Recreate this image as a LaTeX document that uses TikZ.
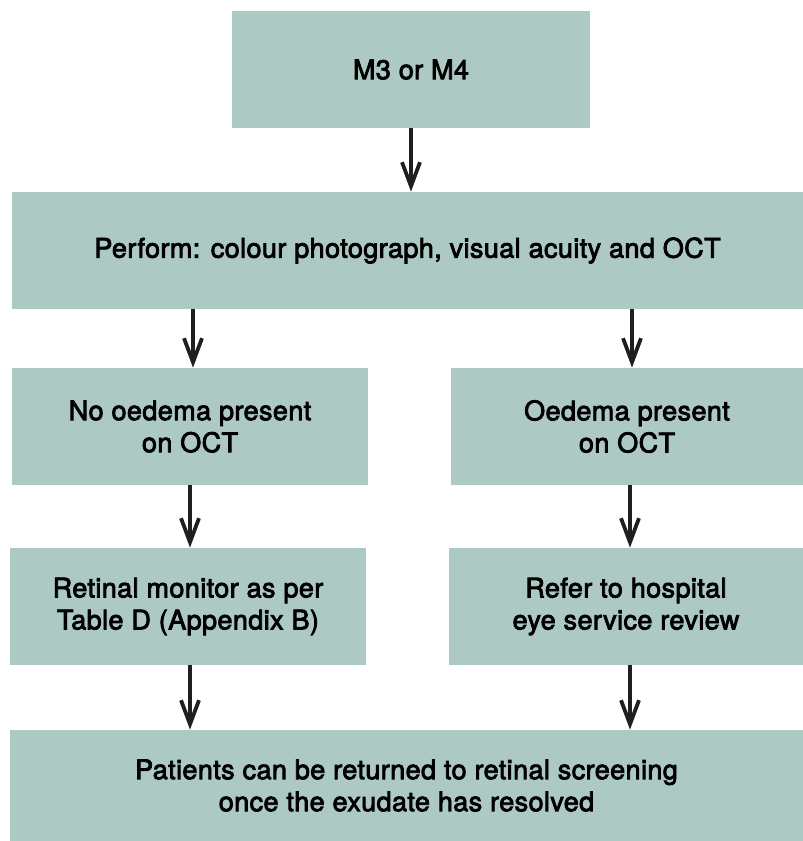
\documentclass[tikz,border=0pt]{standalone}
\usepackage{fontspec}
\newfontfamily\boxfont{TeX Gyre Heros}[FakeBold=3,LetterSpace=1.5]
\usetikzlibrary{arrows.meta}
\definecolor{mysage}{RGB}{173,201,195}
\colorlet{myarrow}{black!88}

\begin{document}
\begin{tikzpicture}[x=0.5pt,y=-0.5pt]
\useasboundingbox (0,0) rectangle (803,841);
\tikzset{BoxStyle/.style ={fill=mysage, draw=none, inner sep=0, align=center,
  font=\boxfont\fontsize{13.5}{16}\selectfont}}
\tikzset{ArrowStyle/.style ={-{Straight Barb[length=12pt, width=9pt]}, line width=1.9pt, color=myarrow}}
\node[BoxStyle, minimum width=179pt, minimum height=58.5pt] (m34) at (411,69.5) {M3 or M4};
\node[BoxStyle, minimum width=395.5pt, minimum height=58.5pt] (perform) at (407.5,250.5) {Perform: colour photograph, visual acuity and OCT};
\node[BoxStyle, minimum width=178pt, minimum height=58.5pt] (noedema) at (190,426.5) {No oedema present\\on OCT};
\node[BoxStyle, minimum width=176pt, minimum height=58.5pt] (oedema) at (627,426.5) {Oedema present\\on OCT};
\node[BoxStyle, minimum width=178pt, minimum height=58.5pt] (monitor) at (188,606.5) {Retinal monitor as per\\Table D (Appendix B)};
\node[BoxStyle, minimum width=177pt, minimum height=58.5pt] (refer) at (626,606.5) {Refer to hospital\\eye service review};
\node[BoxStyle, minimum width=396.5pt, minimum height=55.5pt] (patients) at (406.5,785.5) {Patients can be returned to retinal screening\\once the exudate has resolved};
% arrows
\draw[ArrowStyle] (m34) -- (perform.north -| m34.south);
\draw[ArrowStyle] ([xshift=1.5pt]perform.south -| noedema.north) -- ([xshift=1.5pt]noedema.north);
\draw[ArrowStyle] ([xshift=2.5pt]perform.south -| oedema.north) -- ([xshift=2.5pt]oedema.north);
\draw[ArrowStyle] (noedema) -- (monitor.north -| noedema.south);
\draw[ArrowStyle] ([xshift=1.5pt]oedema.south) -- ([xshift=1.5pt]refer.north -| oedema.south);
\draw[ArrowStyle] ([xshift=1pt]monitor.south) -- ([xshift=1pt]patients.north -| monitor.south);
\draw[ArrowStyle] ([xshift=2pt]refer.south) -- ([xshift=2pt]patients.north -| refer.south);
\end{tikzpicture}
\end{document}
